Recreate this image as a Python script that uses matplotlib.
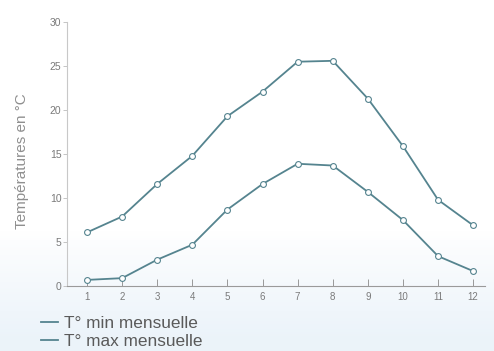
import numpy as np
import matplotlib.pyplot as plt
from matplotlib.lines import Line2D

plt.rcParams['font.family'] = ['Liberation Sans', 'DejaVu Sans']

# Monthly temperatures
months = [1, 2, 3, 4, 5, 6, 7, 8, 9, 10, 11, 12]
t_min = [0.7, 0.9, 3.0, 4.7, 8.7, 11.6, 13.9, 13.7, 10.7, 7.5, 3.4, 1.7]
t_max = [6.1, 7.9, 11.6, 14.8, 19.3, 22.1, 25.5, 25.6, 21.3, 15.9, 9.8, 6.9]
labels = ["T° min mensuelle", "T° max mensuelle"]

line_col = "#55848f"
grey = "#7a7a7a"

fig = plt.figure(figsize=(4.94, 3.51), dpi=100)

# light blue gradient in the lower part of the picture
bg = fig.add_axes([0, 0, 1, 1], zorder=-10)
grad = np.linspace(0, 1, 256)
grad = np.clip((grad - 0.66) / 0.30, 0, 1) ** 0.9
img = np.ones((256, 1, 3))
base = np.array([0.925, 0.955, 0.98])
img[:, 0, :] = (1 - grad[:, None]) * 1.0 + grad[:, None] * base
bg.imshow(img, aspect="auto", extent=[0, 1, 0, 1], origin="upper")
bg.axis("off")

ax = fig.add_axes([0.1356, 0.185, 0.8464, 0.752])
ax.patch.set_alpha(0)

for vals in (t_min, t_max):
    ax.plot(months, vals, color=line_col, lw=1.3, marker="o", ms=4.2,
            mfc="white", mec=line_col, mew=0.8)

ax.set_xlim(0.43, 12.34)
ax.set_ylim(0, 30)
ax.set_xticks(months)
ax.set_yticks([0, 5, 10, 15, 20, 25, 30])

for s in ["top", "right"]:
    ax.spines[s].set_visible(False)
ax.spines["left"].set_color("#c8c8c8")
ax.spines["bottom"].set_color("#9a9a9a")

ax.tick_params(axis="y", direction="out", length=3, colors="#bbbbbb",
               labelcolor=grey, labelsize=7.5, pad=1, width=0.6)
ax.tick_params(axis="x", direction="in", length=5, colors="#8a8a8a",
               labelcolor=grey, labelsize=7, pad=4, width=0.6)

ax.set_ylabel("Températures en °C", color="#8f8f8f", fontsize=11)
ax.yaxis.set_label_coords(-0.09, 0.475)

handles = [Line2D([], [], color=line_col, lw=1.3) for _ in labels]
fig.legend(handles, labels, loc="upper left", bbox_to_anchor=(0.066, 0.125),
           frameon=False, fontsize=12.4, handlelength=1.0, handletextpad=0.35,
           labelspacing=0.2, labelcolor="#5a5a5a", borderpad=0)

plt.savefig("out.png", dpi=100)
